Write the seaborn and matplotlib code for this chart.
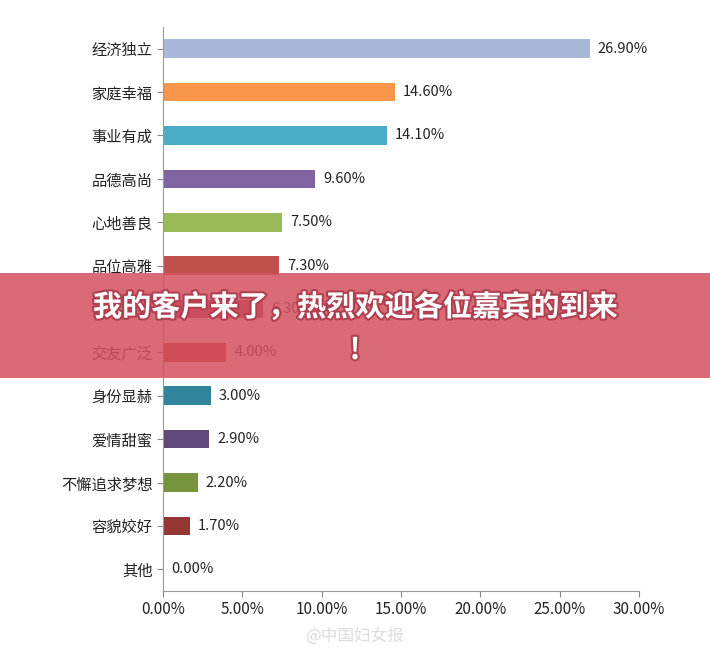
import pandas as pd
import seaborn as sns
import matplotlib.pyplot as plt
import matplotlib.patheffects as pe
from matplotlib.patches import Rectangle
from matplotlib.ticker import FuncFormatter

plt.rcParams['font.family'] = 'Noto Sans CJK SC'

categories = ['经济独立', '家庭幸福', '事业有成', '品德高尚', '心地善良', '品位高雅', '孩子优秀',
              '交友广泛', '身份显赫', '爱情甜蜜', '不懈追求梦想', '容貌姣好', '其他']
values = [26.9, 14.6, 14.1, 9.6, 7.5, 7.3, 6.3, 4.0, 3.0, 2.9, 2.2, 1.7, 0.0]
colors = ['#a9b7d9', '#f7964a', '#4bacc6', '#8064a2', '#9bbb59', '#c0504d', '#9b3d5e',
          '#c0392f', '#31849b', '#60497a', '#77933c', '#953735', '#4f81bd']

data = pd.DataFrame({'cat': categories, 'val': values})

fig = plt.figure(figsize=(7.1, 6.55), dpi=100)
ax = fig.add_axes([163 / 710, 1 - 591 / 655, 476 / 710, 564 / 655])
sns.barplot(data=data, x='val', y='cat', hue='cat', palette=colors, legend=False,
            width=0.43, ax=ax, saturation=1)

for i, v in enumerate(values):
    ax.text(v + 0.5, i, f'{v:.2f}%', va='center', ha='left', fontsize=10.5, color='#222222')

ax.set_xlim(0, 30)
ax.set_xticks([0, 5, 10, 15, 20, 25, 30])
ax.xaxis.set_major_formatter(FuncFormatter(lambda x, p: f'{x:.2f}%'))
ax.set_xlabel('')
ax.set_ylabel('')
ax.tick_params(axis='both', labelsize=11, colors='#888888', labelcolor='#222222', length=4)
for s in ['top', 'right']:
    ax.spines[s].set_visible(False)
for s in ['left', 'bottom']:
    ax.spines[s].set_color('#999999')

# red banner overlay
fig.patches.append(Rectangle((0, 1 - 378 / 655), 1, 105 / 655, transform=fig.transFigure,
                             facecolor='#d4505e', alpha=0.85, zorder=10))
shadow = [pe.withStroke(linewidth=3, foreground='#b04050')]
fig.text(0.5, 1 - 307 / 655, '我的客户来了，热烈欢迎各位嘉宾的到来', ha='center', va='center',
         fontsize=21, fontweight='bold', color='white', zorder=11, path_effects=shadow)
fig.text(0.5, 1 - 350 / 655, '!', ha='center', va='center', fontsize=21, fontweight='bold',
         color='white', zorder=11, path_effects=shadow)

fig.text(0.5, 1 - 636 / 655, '@中国妇女报', ha='center', va='center', fontsize=12,
         color='#dddddd')

fig.savefig('out.png', dpi=100)
